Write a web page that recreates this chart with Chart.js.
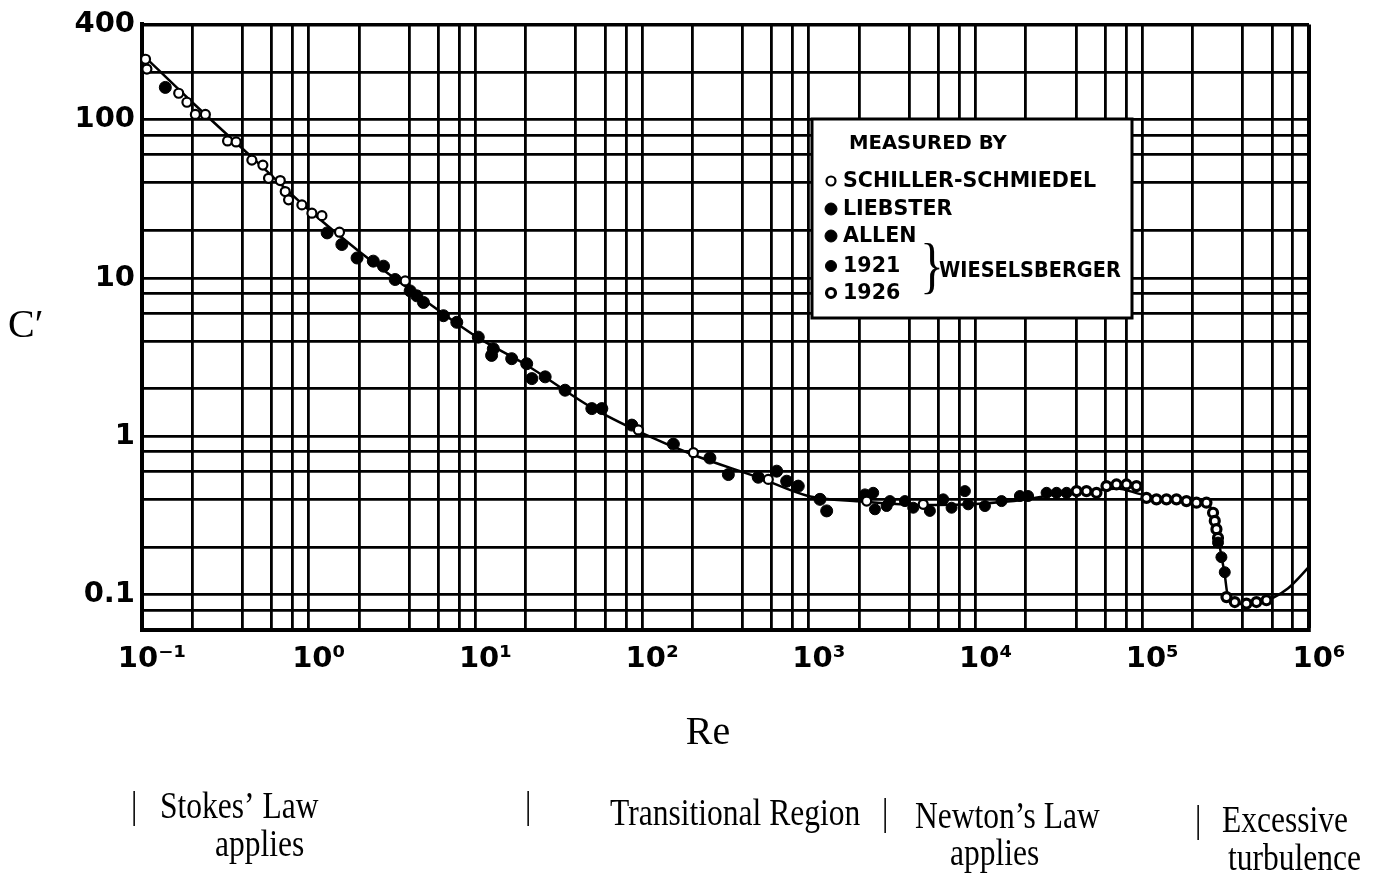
<!DOCTYPE html>
<html>
<head>
<meta charset="utf-8">
<script src="https://cdn.jsdelivr.net/npm/chart.js@4.4.1/dist/chart.umd.min.js"></script>
<style>
html,body{margin:0;padding:0;background:#fff;}
canvas{display:block;}
</style>
</head>
<body>
<canvas id="c" width="1382" height="876"></canvas>
<script>
// ---- Data (Re, C') ----
const curveRe = [0.1,0.2,0.5,1,2,5,10,20,50,100,200,500,1000,2000,5000,1e4,2e4,3e4,5e4,7e4,1e5,1.5e5,2e5,2.5e5,2.7e5,2.85e5,3.0e5,3.12e5,3.25e5,3.6e5,4.2e5,5e5,6e5,7.5e5,1e6];
const curveC  = [260,129,53,27,14.8,7.2,4.3,2.85,1.52,1.05,0.77,0.55,0.42,0.39,0.37,0.375,0.40,0.43,0.45,0.47,0.43,0.40,0.385,0.37,0.31,0.23,0.17,0.135,0.10,0.09,0.087,0.089,0.095,0.11,0.15];

const schillerRe = [0.105,0.107,0.166,0.186,0.209,0.240,0.326,0.367,0.456,0.531,0.574,0.675,0.723,0.757,0.910,1.045,1.20,1.53,3.79,94.9,203,571,2222,4853];
const schillerC  = [241,209,147,129,108,108,73.5,72.4,55.6,51.7,42.7,41.3,35.2,31.2,29.0,25.7,24.8,19.5,9.6,1.10,0.79,0.536,0.391,0.373];

const liebsterRe = [0.138,1.29,1.58,1.95,2.44,2.81,3.30,4.06,4.45,4.88,6.43,7.73,10.4,12.5,12.8,16.5,20.3,21.8,26.2,34.5];
const liebsterC  = [160,19.3,16.3,13.4,12.8,11.9,9.8,8.3,7.73,7.02,5.79,5.26,4.24,3.25,3.58,3.10,2.88,2.32,2.38,1.96];

const allenRe = [49.9,57.3,86.7,154,255,329,497,641,736,864,1166,1279];
const allenC  = [1.50,1.50,1.18,0.895,0.731,0.575,0.553,0.604,0.522,0.486,0.401,0.339];

const w1921Re = [2168,2432,2490,2926,3064,3770,4228,5321,6397,7178,8630,9036,11380,14320,18450,20650,26660,30600,35150,284600,298300,312400];
const w1921C  = [0.431,0.441,0.347,0.364,0.391,0.391,0.355,0.339,0.401,0.355,0.452,0.373,0.364,0.391,0.421,0.421,0.441,0.441,0.441,0.214,0.173,0.139];

const w1926Re = [40360,46270,53110,60980,70000,80350,92270,105900,121600,139600,160300,184100,211300,242600,265700,272100,278500,284600,319800,358700,421400,484000,555600];
const w1926C  = [0.452,0.452,0.441,0.486,0.498,0.498,0.486,0.410,0.401,0.401,0.401,0.391,0.382,0.382,0.330,0.293,0.260,0.229,0.0968,0.0901,0.0881,0.0901,0.0925];

// ---- Axes: grid values and tick labels ----
const xGridValues = [0.1,0.2,0.4,0.6,0.8,1,2,4,6,8,10,20,40,60,80,100,200,400,600,800,1000,2000,4000,6000,8000,1e4,2e4,4e4,6e4,8e4,1e5,2e5,4e5,6e5,8e5,1e6];
const xLabelValues = [0.1,1,10,100,1000,1e4,1e5,1e6];
const xLabelTexts  = ['10\u207B\u00B9','10\u2070','10\u00B9','10\u00B2','10\u00B3','10\u2074','10\u2075','10\u2076'];

const yGridValues = [0.06,0.08,0.1,0.2,0.4,0.6,0.8,1,2,4,6,8,10,20,40,60,80,100,200,400];
const yLabelValues = [0.1,1,10,100,400];
const yLabelTexts  = ['0.1','1','10','100','400'];

const xTitle = 'Re';
const yTitle = 'C\u2032';
const legendTitle = 'MEASURED BY';
const legendNames = ['SCHILLER-SCHMIEDEL','LIEBSTER','ALLEN','1921','1926'];
const legendGroup = 'WIESELSBERGER';
const regionTexts = ['Stokes\u2019 Law','applies','Transitional Region','Newton\u2019s Law','applies','Excessive','turbulence'];

const pts = (xs, ys) => xs.map((x, i) => ({x: x, y: ys[i]}));
const sameVal = (a, b) => Math.abs(Math.log10(a) - Math.log10(b)) < 1e-6;
const labelFor = (v, vals, texts) => { const i = vals.findIndex(lv => sameVal(lv, v)); return i >= 0 ? texts[i] : ''; };

const markerStyles = [
  {r: 4.5, fill: '#fff', bw: 2.2},
  {r: 6,   fill: '#000', bw: 1},
  {r: 6,   fill: '#000', bw: 1},
  {r: 5.5, fill: '#000', bw: 1},
  {r: 4.5, fill: '#fff', bw: 3.2}
];

function drawMarker(ctx, x, y, s) {
  ctx.beginPath();
  ctx.arc(x, y, s.r, 0, Math.PI * 2);
  ctx.fillStyle = s.fill;
  ctx.fill();
  ctx.lineWidth = s.bw;
  ctx.strokeStyle = '#000';
  ctx.stroke();
}

function scaledText(ctx, text, x, y, sx) {
  ctx.save();
  ctx.translate(x, y);
  ctx.scale(sx, 1);
  ctx.fillText(text, 0, 0);
  ctx.restore();
}

const extras = {
  id: 'extras',
  afterDatasetsDraw(chart) {
    const ctx = chart.ctx;
    ctx.save();
    // legend box
    ctx.fillStyle = '#fff';
    ctx.fillRect(812, 119, 320, 199);
    ctx.lineWidth = 3;
    ctx.strokeStyle = '#000';
    ctx.strokeRect(812, 119, 320, 199);
    ctx.fillStyle = '#000';
    ctx.textBaseline = 'middle';
    ctx.textAlign = 'left';
    ctx.font = 'bold 20px "DejaVu Sans"';
    scaledText(ctx, legendTitle, 849, 144, 0.98);
    const rowsY = [181, 209, 236, 266, 293];
    legendNames.forEach((n, i) => {
      drawMarker(ctx, 831, rowsY[i], markerStyles[i]);
      ctx.fillStyle = '#000';
      ctx.font = 'bold 21px "DejaVu Sans"';
      scaledText(ctx, n, 843, rowsY[i] + 1, 0.98);
    });
    ctx.font = '62px "Liberation Serif"';
    scaledText(ctx, '}', 920, 270, 0.8);
    ctx.font = 'bold 21px "DejaVu Sans"';
    scaledText(ctx, legendGroup, 939, 272, 0.92);
    ctx.restore();
  },
  afterDraw(chart) {
    const ctx = chart.ctx;
    ctx.save();
    ctx.fillStyle = '#000';
    ctx.textBaseline = 'middle';
    ctx.textAlign = 'left';
    ctx.font = '40px "Liberation Serif"';
    ctx.fillText(yTitle, 8, 326);
    ctx.textAlign = 'center';
    ctx.fillText(xTitle, 708, 733);
    ctx.textAlign = 'left';
    ctx.font = '38px "Liberation Serif"';
    const sx = 0.83;
    scaledText(ctx, '|', 131, 808, sx);
    scaledText(ctx, regionTexts[0], 160, 808, sx);
    scaledText(ctx, regionTexts[1], 215, 846, sx);
    scaledText(ctx, '|', 525, 808, sx);
    scaledText(ctx, regionTexts[2], 610, 815, sx);
    scaledText(ctx, '|', 882, 815, sx);
    scaledText(ctx, regionTexts[3], 915, 818, sx);
    scaledText(ctx, regionTexts[4], 950, 855, sx);
    scaledText(ctx, '|', 1195, 822, sx);
    scaledText(ctx, regionTexts[5], 1222, 822, sx);
    scaledText(ctx, regionTexts[6], 1228, 860, sx);
    ctx.restore();
  }
};

const mk = (label, xs, ys, s) => ({
  label: label, data: pts(xs, ys), showLine: false,
  pointRadius: s.r, pointHoverRadius: s.r,
  pointBackgroundColor: s.fill, pointBorderColor: '#000', pointBorderWidth: s.bw,
  order: 0
});

new Chart(document.getElementById('c'), {
  type: 'scatter',
  data: {
    datasets: [
      mk(legendNames[0], schillerRe, schillerC, markerStyles[0]),
      mk(legendNames[1], liebsterRe, liebsterC, markerStyles[1]),
      mk(legendNames[2], allenRe, allenC, markerStyles[2]),
      mk(legendNames[3], w1921Re, w1921C, markerStyles[3]),
      mk(legendNames[4], w1926Re, w1926C, markerStyles[4]),
      {
        label: 'curve', data: pts(curveRe, curveC), showLine: true,
        borderColor: '#000', borderWidth: 2.5, pointRadius: 0,
        cubicInterpolationMode: 'monotone', order: 1
      }
    ]
  },
  options: {
    responsive: false,
    animation: false,
    layout: {padding: {top: 21, right: 73, left: 0, bottom: 0}},
    plugins: {legend: {display: false}, tooltip: {enabled: false}},
    scales: {
      x: {
        type: 'logarithmic', min: 0.1, max: 1e6,
        afterBuildTicks: (axis) => { axis.ticks = xGridValues.map(v => ({value: v})); },
        afterFit: (s) => { s.height = 246; },
        grid: {color: '#000', lineWidth: (c) => (c.tick && (sameVal(c.tick.value, 1e6)) ? 4 : 2.8), drawTicks: false},
        border: {display: true, color: '#000', width: 4},
        ticks: {
          autoSkip: false, maxRotation: 0, minRotation: 0, padding: 12, labelOffset: 10,
          color: '#000', font: {family: 'DejaVu Sans', size: 29, weight: 'bold'},
          callback: (v) => labelFor(v, xLabelValues, xLabelTexts)
        }
      },
      y: {
        type: 'logarithmic', min: 0.06, max: 400,
        afterBuildTicks: (axis) => { axis.ticks = yGridValues.map(v => ({value: v})); },
        afterFit: (s) => { s.width = 142; },
        grid: {color: '#000', lineWidth: (c) => (c.tick && (sameVal(c.tick.value, 400)) ? 3.5 : 2.8), drawTicks: false},
        border: {display: true, color: '#000', width: 4},
        ticks: {
          autoSkip: false, padding: 7, color: '#000',
          font: {family: 'DejaVu Sans', size: 29, weight: 'bold'},
          callback: (v) => labelFor(v, yLabelValues, yLabelTexts)
        }
      }
    }
  },
  plugins: [extras]
});
</script>
</body>
</html>
